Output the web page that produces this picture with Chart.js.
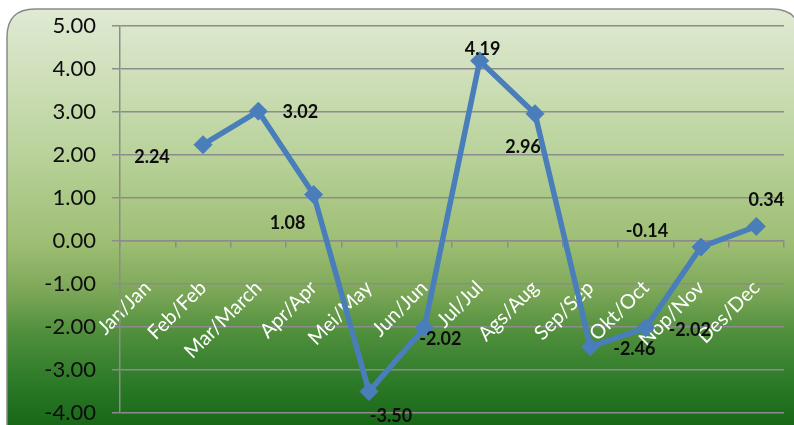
<!DOCTYPE html>
<html>
<head>
<meta charset="utf-8">
<script src="https://cdn.jsdelivr.net/npm/chart.js@4.4.0/dist/chart.umd.min.js"></script>
<style>
  html, body { margin: 0; padding: 0; background: #fff; }
  #wrap { width: 794px; height: 425px; position: relative; }
</style>
</head>
<body>
<div id="wrap"><canvas id="chart"></canvas></div>
<script>
// monthly values, Jan has no point
const months = ['Jan/Jan', 'Feb/Feb', 'Mar/March', 'Apr/Apr', 'Mei/May', 'Jun/Jun',
  'Jul/Jul', 'Ags/Aug', 'Sep/Sep', 'Okt/Oct', 'Nop/Nov', 'Des/Dec'];
const values = [null, 2.24, 3.02, 1.08, -3.50, -2.02, 4.19, 2.96, -2.46, -2.02, -0.14, 0.34];
const yMin = -4;
const yMax = 5;
const yStep = 1;

// where each value label sits relative to its point (px)
const labelShift = [null, [-51, 13], [42, 1], [-26, 29], [22, 25], [16, 11],
  [3, -12], [-12, 33], [44, 2], [44, 2], [-54, -16], [10, -26]];

const gridColor = '#8c8c8c';
const lineBlue = '#4a7ebb';

const framePlugin = {
  id: 'frame',
  beforeDraw(chart) {
    const ctx = chart.ctx;
    const w = chart.width, h = chart.height;
    ctx.save();
    ctx.fillStyle = '#ffffff';
    ctx.fillRect(0, 0, w, h);
    const x0 = 7, y0 = 9, x1 = w + 6, y1 = h + 20, r = 28;
    const g = ctx.createLinearGradient(0, y0, 0, h);
    g.addColorStop(0, '#dfead4');
    g.addColorStop(0.12, '#d3e2c0');
    g.addColorStop(0.34, '#bad39c');
    g.addColorStop(0.56, '#9ebe74');
    g.addColorStop(0.67, '#7fa95a');
    g.addColorStop(0.78, '#4f8f3c');
    g.addColorStop(0.89, '#2e7b29');
    g.addColorStop(1, '#186818');
    ctx.beginPath();
    ctx.moveTo(x0 + r, y0);
    ctx.lineTo(x1 - r, y0);
    ctx.quadraticCurveTo(x1, y0, x1, y0 + r);
    ctx.lineTo(x1, y1);
    ctx.lineTo(x0, y1);
    ctx.lineTo(x0, y0 + r);
    ctx.quadraticCurveTo(x0, y0, x0 + r, y0);
    ctx.closePath();
    ctx.fillStyle = g;
    ctx.fill();
    ctx.lineWidth = 1.5;
    ctx.strokeStyle = '#8a8a8a';
    ctx.stroke();
    ctx.restore();
  }
};

const valueLabels = {
  id: 'valueLabels',
  afterDatasetsDraw(chart) {
    const ctx = chart.ctx;
    const meta = chart.getDatasetMeta(0);
    ctx.save();
    ctx.font = 'bold 18px Lato';
    ctx.fillStyle = '#0d0d0d';
    ctx.textAlign = 'center';
    ctx.textBaseline = 'middle';
    meta.data.forEach((pt, i) => {
      const v = values[i];
      if (v === null || !labelShift[i]) return;
      ctx.fillText(v.toFixed(2), pt.x + labelShift[i][0], pt.y + labelShift[i][1]);
    });
    ctx.restore();
  }
};

new Chart(document.getElementById('chart'), {
  type: 'line',
  data: {
    labels: months,
    datasets: [{
      data: values,
      borderColor: lineBlue,
      backgroundColor: lineBlue,
      borderWidth: 5.5,
      pointStyle: 'rectRot',
      pointRadius: 9,
      pointHoverRadius: 9,
      pointBackgroundColor: lineBlue,
      pointBorderColor: lineBlue,
      pointBorderWidth: 1,
      tension: 0,
      spanGaps: false
    }]
  },
  options: {
    responsive: true,
    maintainAspectRatio: false,
    animation: false,
    layout: { padding: { top: 26, right: 6, bottom: 12, left: 0 } },
    plugins: {
      legend: { display: false },
      tooltip: { enabled: false }
    },
    scales: {
      x: {
        position: { y: 0 },
        offset: true,
        z: 1, // month names sit on top of the line, like the original
        afterFit(scale) {
          scale.paddingLeft = 0;
          scale.paddingRight = 0;
        },
        grid: {
          offset: true,
          drawOnChartArea: false,
          drawTicks: true,
          tickLength: 6,
          color: gridColor,
          lineWidth: 1.5
        },
        border: { display: true, color: gridColor, width: 1.5 },
        ticks: {
          color: '#ffffff',
          font: { family: 'Lato', size: 20 },
          minRotation: 45,
          maxRotation: 45,
          padding: 29,
          autoSkip: false
        }
      },
      y: {
        min: yMin,
        max: yMax,
        afterFit(scale) {
          scale.width = 120;
          // keep the tick label padding from eating the plot height
          scale.paddingTop = 0;
          scale.paddingBottom = 0;
        },
        grid: {
          color: gridColor,
          lineWidth: 1.5,
          tickLength: 8
        },
        border: { display: true, color: gridColor, width: 1.5 },
        ticks: {
          stepSize: yStep,
          color: '#0d0d0d',
          font: { family: 'Lato', size: 22 },
          padding: 16,
          callback: (v) => v.toFixed(2)
        }
      }
    }
  },
  plugins: [framePlugin, valueLabels]
});
</script>
</body>
</html>
